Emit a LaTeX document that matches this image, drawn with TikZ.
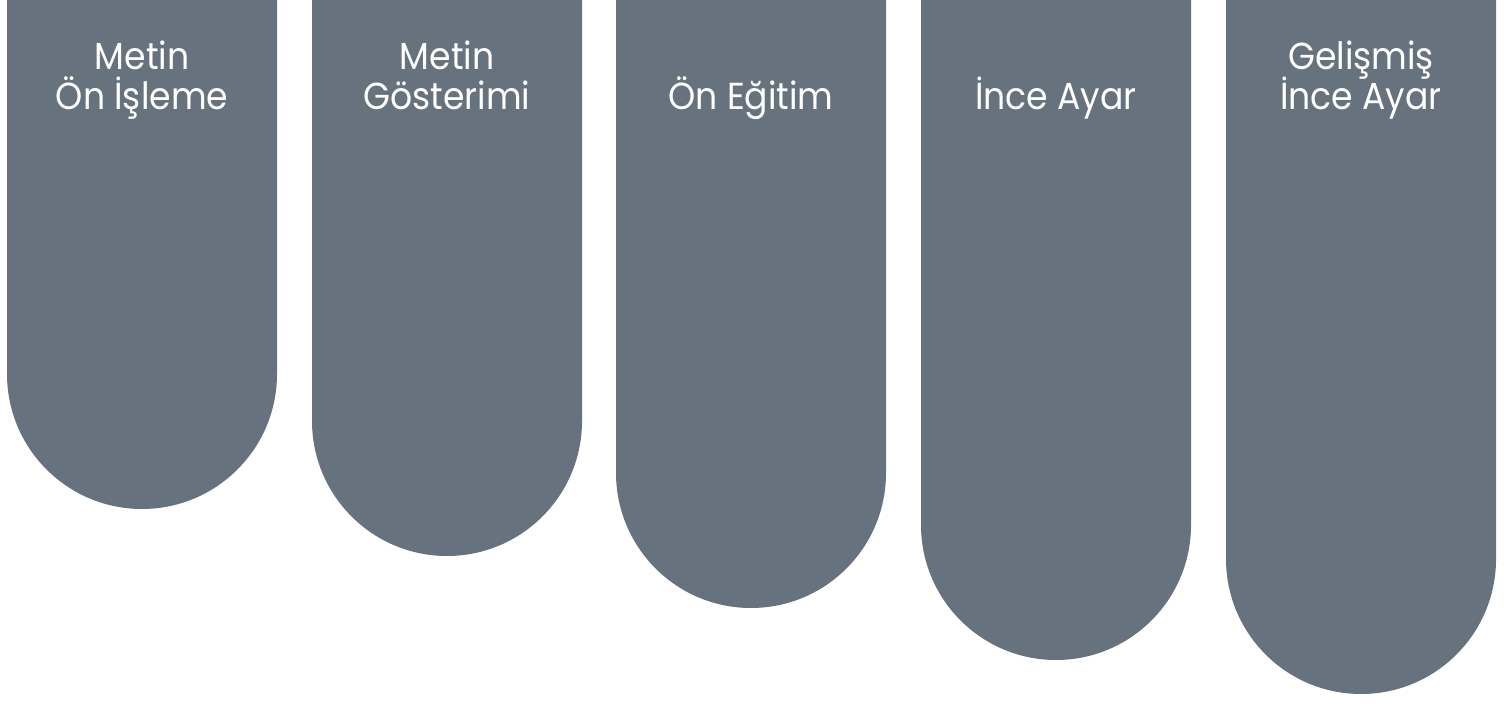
\documentclass[tikz,border=0pt]{standalone}
\usepackage{fontspec}
\setmainfont{Poppins}
\usepackage{tikz}
\definecolor{pillargray}{RGB}{102,114,125}
\newcommand\pillarfont{\fontsize{10.7}{11.4}\selectfont\lineskiplimit=-20pt\relax}

\begin{document}
\begin{tikzpicture}[x=0.01cm,y=0.01cm,
    pillar/.style={fill=pillargray},
    lbl/.style={text=white,align=center,anchor=base,inner sep=0pt,xscale=0.92,
      font=\pillarfont}]
        \useasboundingbox (0,0) rectangle (1504,-704);

        \fill[pillar] (7,0) -- (7,-374) arc[start angle=180,end angle=360,radius=135] -- (277,0) -- cycle;
        \fill[pillar] (312,0) -- (312,-421) arc[start angle=180,end angle=360,radius=135] -- (582,0) -- cycle;
        \fill[pillar] (616,0) -- (616,-473) arc[start angle=180,end angle=360,radius=135] -- (886,0) -- cycle;
        \fill[pillar] (921,0) -- (921,-525) arc[start angle=180,end angle=360,radius=135] -- (1191,0) -- cycle;
        \fill[pillar] (1226,0) -- (1226,-559) arc[start angle=180,end angle=360,radius=135] -- (1496,0) -- cycle;

        \node[lbl] (pre) at (142,-110) {Metin\\Ön İşleme};
        \node[lbl] (rep) at (447,-110) {Metin\\Gösterimi};
        \node[lbl] (pt) at (751,-110) {Ön Eğitim};
        \node[lbl] (ft) at (1056,-110) {İnce Ayar};
        \node[lbl] (aft) at (1361,-110) {Gelişmiş\\İnce Ayar};

      \end{tikzpicture}
\end{document}
